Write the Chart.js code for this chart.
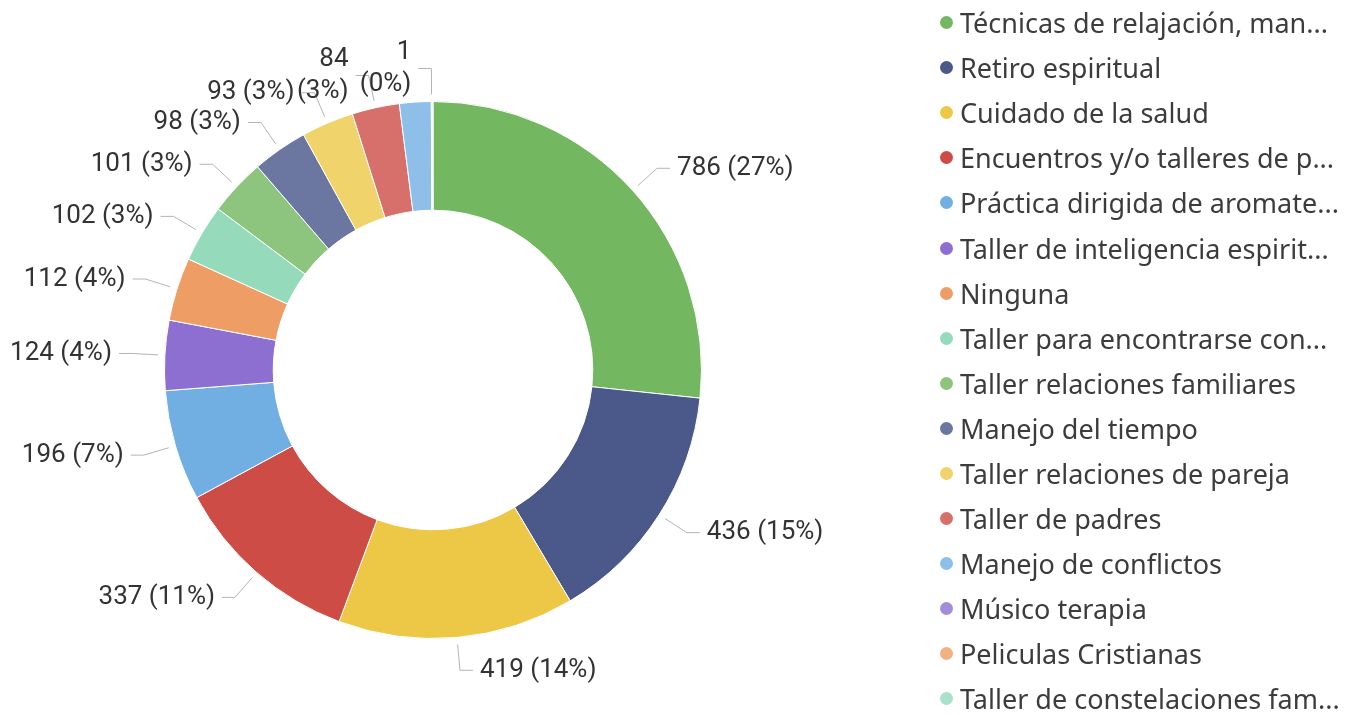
<!DOCTYPE html>
<html>
<head>
<meta charset="utf-8">
<script src="https://cdn.jsdelivr.net/npm/chart.js@4/dist/chart.umd.min.js"></script>
<style>
  body { margin: 0; background: #fff; overflow: hidden; }
  #wrap { position: relative; width: 1346px; height: 715px; }
  #chart { position: absolute; left: 0; top: 0; }
  #legend { position: absolute; left: 938px; top: 0; width: 408px; }
  .item { height: 45.1px; display: flex; align-items: center; font-family: "Noto Sans", sans-serif; font-size: 27px; color: #3c3c3c; white-space: nowrap; }
  .dot { width: 13px; height: 13px; border-radius: 50%; margin: 0 7px 0 2px; flex: none; }
</style>
</head>
<body>
<div id="wrap">
  <canvas id="chart" width="1346" height="715"></canvas>
  <div id="legend"></div>
</div>
<script>
// categories in the order the slices go round (clockwise from the top)
const categories = [
  "Técnicas de relajación, manejo del estrés",
  "Retiro espiritual",
  "Cuidado de la salud",
  "Encuentros y/o talleres de parejas",
  "Práctica dirigida de aromaterapia",
  "Taller de inteligencia espiritual",
  "Ninguna",
  "Taller para encontrarse consigo mismo",
  "Taller relaciones familiares",
  "Manejo del tiempo",
  "Taller relaciones de pareja",
  "Taller de padres",
  "Manejo de conflictos",
  "Músico terapia",
  "Peliculas Cristianas",
  "Taller de constelaciones familiares"
];
// counts (Manejo de conflictos)
const values = [786, 436, 419, 337, 196, 124, 112, 102, 101, 98, 93, 84, 56, 1, 1, 1];
const colors = [
  "#73B761", "#4A588A", "#ECC846", "#CD4C46", "#71AFE2", "#8D6FD1", "#EE9E64", "#95DABB",
  "#8DC47E", "#6B77A0", "#F0D36B", "#D7706B", "#8DBFE8", "#A48CDA", "#F1B183", "#AAE1C9"
];
// which slices get a data label, and which ones are wrapped on two lines
const showLabel = [true, true, true, true, true, true, true, true, true, true, true, true, false, true, false, false];
const wrapLabel = [false, false, false, false, false, false, false, false, false, false, false, true, false, true, false, false];

const total = values.reduce((a, b) => a + b, 0);

// draws the labels outside the ring with a small bent leader line
const outLabels = {
  id: "outLabels",
  afterDatasetsDraw(chart) {
    const ctx = chart.ctx;
    const meta = chart.getDatasetMeta(0);
    ctx.save();
    ctx.font = "26px Roboto";
    ctx.fillStyle = "#333333";
    ctx.strokeStyle = "#b4b4b4";
    ctx.lineWidth = 1;
    ctx.textBaseline = "middle";
    meta.data.forEach((arc, i) => {
      if (!showLabel[i]) return;
      const p = arc.getProps(["x", "y", "startAngle", "endAngle", "outerRadius"], true);
      const a = (p.startAngle + p.endAngle) / 2;
      const c = Math.cos(a), s = Math.sin(a);
      const side = c >= 0 ? 1 : -1;
      const x0 = p.x + (p.outerRadius + 7) * c, y0 = p.y + (p.outerRadius + 7) * s;
      const x1 = p.x + (p.outerRadius + 33) * c, y1 = p.y + (p.outerRadius + 33) * s;
      const x2 = x1 + side * 13;
      ctx.beginPath();
      ctx.moveTo(x0, y0);
      ctx.lineTo(x1, y1);
      ctx.lineTo(x2, y1);
      ctx.stroke();
      const pct = Math.round(values[i] / total * 100);
      ctx.textAlign = side > 0 ? "left" : "right";
      const tx = x2 + side * 7;
      if (wrapLabel[i]) {
        ctx.fillText(String(values[i]), tx, y1 - 16);
        ctx.fillText("(" + pct + "%)", tx, y1 + 16);
      } else {
        ctx.fillText(values[i] + " (" + pct + "%)", tx, y1);
      }
    });
    ctx.restore();
  }
};

new Chart(document.getElementById("chart"), {
  type: "doughnut",
  data: {
    labels: categories,
    datasets: [{
      data: values,
      backgroundColor: colors,
      borderColor: "#ffffff",
      borderWidth: 1
    }]
  },
  options: {
    responsive: false,
    animation: false,
    cutout: "59.5%",
    layout: { padding: { left: 164, right: 644, top: 101, bottom: 76 } },
    plugins: {
      legend: { display: false },
      tooltip: { enabled: false }
    }
  },
  plugins: [outLabels]
});

// legend on the right, long names cut with "..."
const legendBox = document.getElementById("legend");
const measure = document.createElement("canvas").getContext("2d");
measure.font = '27px "Noto Sans"';
const maxText = 380;
categories.forEach((name, i) => {
  let txt = name;
  if (measure.measureText(txt).width > maxText) {
    while (txt.length > 1 && measure.measureText(txt + "...").width > maxText) txt = txt.slice(0, -1);
    txt = txt + "...";
  }
  const row = document.createElement("div");
  row.className = "item";
  row.innerHTML = '<span class="dot" style="background:' + colors[i] + '"></span><span>' + txt + "</span>";
  legendBox.appendChild(row);
});
</script>
</body>
</html>
